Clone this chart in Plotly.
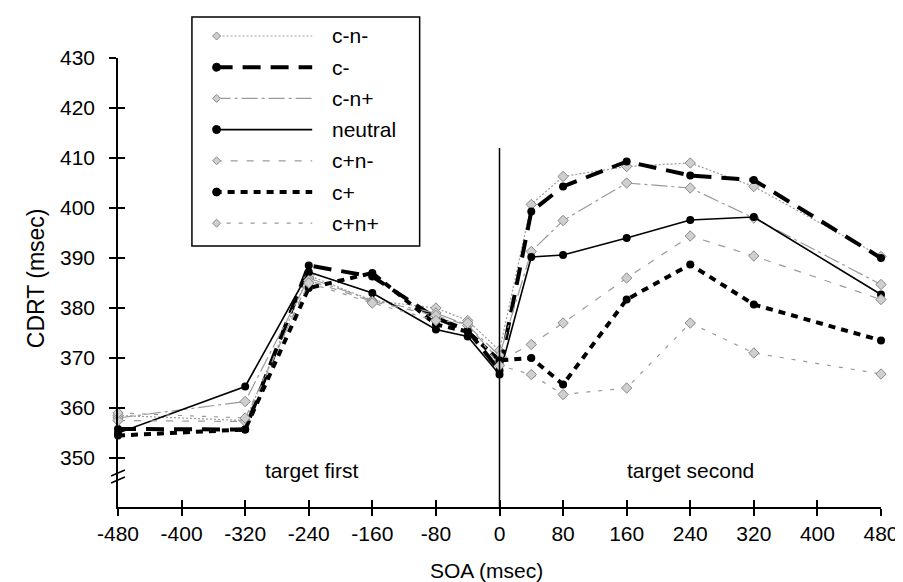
import plotly.graph_objects as go

# ---------------- data ----------------
soa = [-480, -320, -240, -160, -80, -40, 0, 40, 80, 160, 240, 320, 480]
x_ticks = [-480, -400, -320, -240, -160, -80, 0, 80, 160, 240, 320, 400, 480]
y_ticks = [350, 360, 370, 380, 390, 400, 410, 420, 430]

c_n_minus = [358.5, 357.5, 386.5, 381.5, 380.0, 377.5, 371.5, 400.7, 406.3, 408.3, 409.0, 404.3, 390.3]
c_minus   = [355.8, 355.7, 388.5, 386.3, 378.0, 375.5, 367.5, 399.3, 404.3, 409.3, 406.5, 405.6, 390.0]
c_n_plus  = [358.0, 361.3, 386.0, 381.5, 379.0, 376.5, 370.5, 391.3, 397.5, 405.0, 404.0, 398.0, 384.7]
neutral   = [355.0, 364.3, 387.2, 383.0, 375.7, 374.3, 366.7, 390.2, 390.6, 394.0, 397.6, 398.2, 382.7]
c_plus_n_minus = [357.5, 357.3, 385.5, 381.3, 378.5, 376.5, 369.5, 372.7, 377.0, 386.0, 394.4, 390.4, 381.7]
c_plus    = [354.5, 355.7, 384.0, 387.0, 376.7, 375.3, 369.5, 370.0, 364.7, 381.7, 388.7, 380.7, 373.5]
c_plus_n_plus = [359.0, 358.0, 385.0, 381.0, 377.5, 377.0, 368.5, 366.7, 362.7, 364.0, 377.0, 371.0, 366.8]

names = ["c-n-", "c-", "c-n+", "neutral", "c+n-", "c+", "c+n+"]
series = [c_n_minus, c_minus, c_n_plus, neutral, c_plus_n_minus, c_plus, c_plus_n_plus]

GREY = "#9a9a9a"
styles = {
    "c-n-":    dict(color=GREY, width=1.2, dash="2px,2px", black=False),
    "c-":      dict(color="black", width=4, dash="18px,10px", black=True),
    "c-n+":    dict(color=GREY, width=1.2, dash="16px,4px,3px,4px", black=False),
    "neutral": dict(color="black", width=1.6, dash="solid", black=True),
    "c+n-":    dict(color=GREY, width=1.2, dash="7px,9px", black=False),
    "c+":      dict(color="black", width=4, dash="7px,6px", black=True),
    "c+n+":    dict(color=GREY, width=1.2, dash="4px,8px", black=False),
}

fig = go.Figure()
for name, ys in zip(names, series):
    st = styles[name]
    if st["black"]:
        mk = dict(symbol="circle", size=8, color="black")
    else:
        mk = dict(symbol="diamond", size=8, color="#cfcfcf", line=dict(color="#8a8a8a", width=1))
    fig.add_trace(go.Scatter(
        x=soa, y=ys, mode="lines+markers", name=name,
        line=dict(color=st["color"], width=st["width"], dash=st["dash"]),
        marker=mk, showlegend=False, cliponaxis=False,
    ))

# invisible trace for the overlay (inside-tick) axes
fig.add_trace(go.Scatter(x=[0], y=[400], xaxis="x2", yaxis="y2", mode="markers",
                         marker=dict(opacity=0), showlegend=False, hoverinfo="skip"))

# ---------------- geometry (pixels) ----------------
W, H = 903, 582
L, R, T, B = 110, 19, 50, 83
pw, ph = W - L - R, H - T - B
def px(xp):
    return (xp - L) / pw
def py(yp):
    return (H - B - yp) / ph

YMIN, YMAX = 340.2, 430
FONT = "Liberation Sans, Arial, sans-serif"

axis_common = dict(showgrid=False, zeroline=False)
fig.update_layout(
    width=W, height=H,
    margin=dict(l=L, r=R, t=T, b=B),
    paper_bgcolor="white", plot_bgcolor="white",
    font=dict(family=FONT, color="black"),
    xaxis=dict(range=[-480, 480], tickvals=x_ticks, ticktext=[str(v) for v in x_ticks],
               ticks="outside", ticklen=7, tickwidth=1.5, tickcolor="black",
               showline=True, linecolor="black", linewidth=1.5,
               tickfont=dict(size=21, family=FONT), ticklabelstandoff=0, **axis_common),
    yaxis=dict(range=[YMIN, YMAX], tickvals=y_ticks, ticktext=[str(v) for v in y_ticks],
               ticks="outside", ticklen=7, tickwidth=1.5, tickcolor="black",
               showline=True, linecolor="black", linewidth=1.5,
               tickfont=dict(size=21, family=FONT), ticklabelstandoff=10, **axis_common),
    xaxis2=dict(range=[-480, 480], overlaying="x", tickvals=x_ticks, ticks="inside",
                ticklen=7, tickwidth=1.5, tickcolor="black", showticklabels=False,
                showline=False, **axis_common),
    yaxis2=dict(range=[YMIN, YMAX], overlaying="y", tickvals=y_ticks, ticks="inside",
                ticklen=7, tickwidth=1.5, tickcolor="black", showticklabels=False,
                showline=False, **axis_common),
)

shapes = []
# vertical divider at SOA 0
shapes.append(dict(type="line", xref="x", yref="y", x0=0, x1=0, y0=YMIN, y1=412,
                   line=dict(color="black", width=1.5)))
# axis break marks
for yb in (465, 472):
    shapes.append(dict(type="line", xref="paper", yref="paper",
                       x0=px(L - 7), x1=px(L + 7), y0=py(yb + 3), y1=py(yb - 3),
                       line=dict(color="black", width=1.5)))

# legend box
shapes.append(dict(type="rect", xref="paper", yref="paper",
                   x0=px(185), x1=px(416), y0=py(238), y1=py(9),
                   line=dict(color="black", width=1.5), fillcolor="white", layer="above"))

annotations = []
for i, name in enumerate(names):
    st = styles[name]
    yr = 28 + i * 31.2
    shapes.append(dict(type="line", xref="paper", yref="paper",
                       x0=px(208), x1=px(307), y0=py(yr), y1=py(yr), layer="above",
                       line=dict(color=st["color"], width=st["width"], dash=st["dash"])))
    if st["black"]:
        shapes.append(dict(type="circle", xref="paper", yref="paper",
                           x0=px(206), x1=px(214), y0=py(yr + 4), y1=py(yr - 4),
                           fillcolor="black", line=dict(color="black", width=1), layer="above"))
    else:
        cx, cy = 210, yr
        path = "M {} {} L {} {} L {} {} L {} {} Z".format(
            px(cx), py(cy - 4), px(cx + 4), py(cy), px(cx), py(cy + 4), px(cx - 4), py(cy))
        shapes.append(dict(type="path", xref="paper", yref="paper", path=path,
                           fillcolor="#cfcfcf", line=dict(color="#8a8a8a", width=1), layer="above"))
    annotations.append(dict(xref="paper", yref="paper", x=px(325), y=py(yr),
                            xanchor="left", yanchor="middle", text=name, showarrow=False,
                            font=dict(size=21, family=FONT)))

annotations += [
    dict(xref="x", yref="paper", x=-236, y=py(462), text="target first", showarrow=False,
         font=dict(size=21, family=FONT), xanchor="center", yanchor="middle"),
    dict(xref="x", yref="paper", x=240, y=py(462), text="target second", showarrow=False,
         font=dict(size=21, family=FONT), xanchor="center", yanchor="middle"),
    dict(xref="paper", yref="paper", x=px(484), y=py(562), text="SOA (msec)", showarrow=False,
         font=dict(size=21, family=FONT), xanchor="center", yanchor="middle"),
    dict(xref="paper", yref="paper", x=px(27), y=py(270), text="CDRT (msec)", showarrow=False,
         textangle=-90, font=dict(size=23, family=FONT), xanchor="center", yanchor="middle"),
]

fig.update_layout(shapes=shapes, annotations=annotations)
fig.write_html("out.html")
